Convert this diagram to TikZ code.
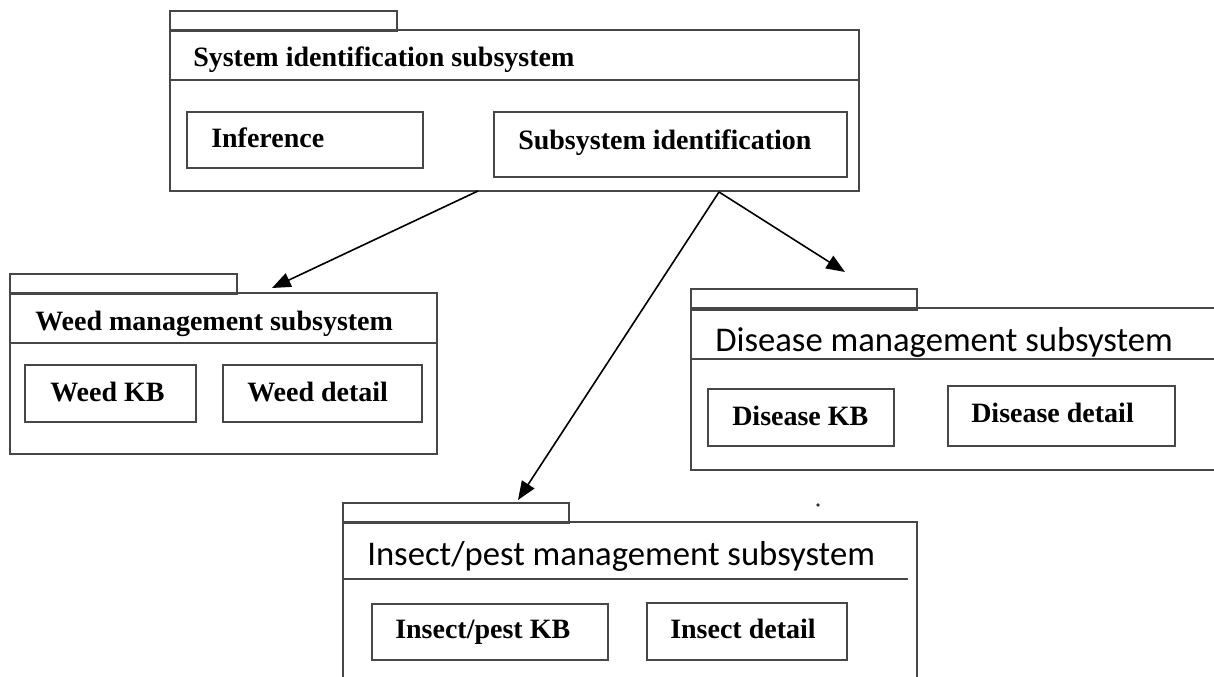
\documentclass[tikz,border=0pt]{standalone}
\usepackage{fontspec}
\setmainfont{Liberation Serif}
\newfontfamily\pkgsans{Carlito}
\usetikzlibrary{arrows.meta}
\begin{document}
\begin{tikzpicture}[x=0.75pt,y=-0.75pt,
  frame/.style={draw=black!72, line width=1.35pt},
  sized/.style 2 args={frame, anchor=north west, inner sep=0pt,
    minimum width=#1, minimum height=#2},
  boldtxt/.style={anchor=base west, inner sep=0pt,
    font=\bfseries\fontsize{21}{25}\selectfont},
  sanstxt/.style={anchor=base west, inner sep=0pt,
    font=\pkgsans\fontsize{26}{31}\selectfont},
  flow/.style={draw=black, line width=1.2pt,
    -{Triangle[length=14pt,width=11pt]}}]
\useasboundingbox (0,0) rectangle (1214,677);
\clip (0,0) rectangle (1214,677);

% ---- System identification subsystem ----
\node[sized={170.25pt}{15pt}] (systab) at (169,10) {};
\node[sized={516.75pt}{120.75pt}] (sys) at (169,29) {};
\draw[frame] (sys.west |- 0,80) -- (sys.east |- 0,80);
\node[boldtxt] (systitle) at (193,67) {System identification subsystem};
\node[sized={177pt}{42pt}] (inf) at (186,111) {};
\node[boldtxt] (inftxt) at (211,148) {Inference};
\node[sized={264.75pt}{48.75pt}] (subid) at (493,111) {};
\node[boldtxt] (subidtxt) at (518,150) {Subsystem identification};

% ---- Weed management subsystem ----
\node[sized={170.25pt}{15pt}] (weedtab) at (9,273) {};
\node[sized={320.25pt}{120.75pt}] (weed) at (9,292) {};
\draw[frame] (weed.west |- 0,343) -- (weed.east |- 0,343);
\node[boldtxt] (weedtitle) at (35,330) {Weed management subsystem};
\node[sized={128.25pt}{42.75pt}] (weedkb) at (24,364) {};
\node[boldtxt] (weedkbtxt) at (50,402) {Weed KB};
\node[sized={149.25pt}{42.75pt}] (weeddet) at (222,364) {};
\node[boldtxt] (weeddettxt) at (247,402) {Weed detail};

% ---- Disease management subsystem ----
\node[sized={169.5pt}{15.75pt}] (distab) at (690,288) {};
\node[sized={405pt}{121.5pt}] (dis) at (690,307) {};
\draw[frame] (dis.west |- 0,359) -- (dis.east |- 0,359);
\node[sanstxt] (distitle) at (715,351) {Disease management subsystem};
\node[sized={139.5pt}{42.75pt}] (diskb) at (707,388) {};
\node[boldtxt] (diskbtxt) at (732,425) {Disease KB};
\node[sized={170.25pt}{45pt}] (disdet) at (947,385) {};
\node[boldtxt] (disdettxt) at (971,422) {Disease detail};

% ---- Insect/pest management subsystem ----
\node[sized={169.5pt}{15pt}] (instab) at (342,502) {};
\node[sized={430.5pt}{126.75pt}] (ins) at (342,521) {};
\draw[frame] (ins.west |- 0,579) -- (908,579);
\node[sanstxt] (institle) at (367,565) {Insect/pest management subsystem};
\node[sized={177pt}{42pt}] (inskb) at (371,603) {};
\node[boldtxt] (inskbtxt) at (395,638) {Insect/pest KB};
\node[sized={150pt}{42.75pt}] (insdet) at (646,602) {};
\node[boldtxt] (insdettxt) at (670,638) {Insect detail};

% ---- dependencies ----
\coordinate (outweed) at (478,191);
\coordinate (outsub) at (719,192);
\coordinate (inweed) at (272,288);
\coordinate (indis) at (845,272);
\coordinate (inins) at (518,500);
\draw[flow] (outweed) -- (inweed);
\draw[flow] (outsub) -- (indis);
\draw[flow] (outsub) -- (inins);

\fill[black!80] (818,505) circle (1.8);
\end{tikzpicture}
\end{document}
